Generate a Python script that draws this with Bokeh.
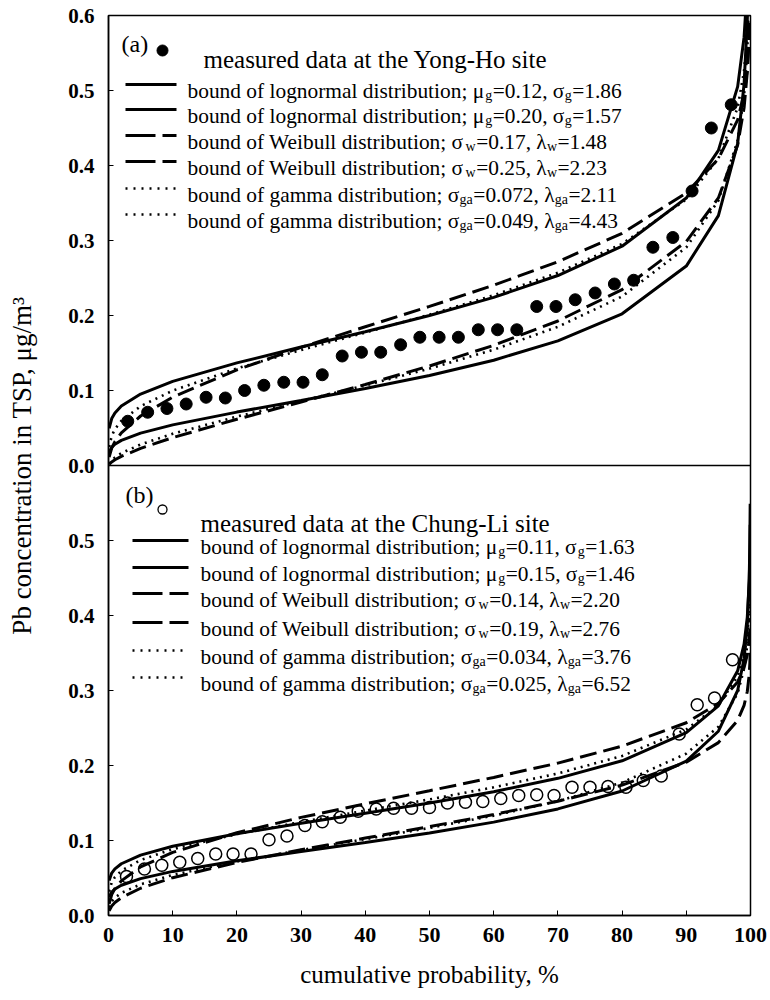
from bokeh.plotting import figure
from bokeh.models import Range1d, FixedTicker, PrintfTickFormatter, Span
from bokeh.core.properties import value
from bokeh.embed import file_html
from bokeh.resources import INLINE

# ---------------- data ----------------
cum_prob = [0.1, 0.5, 1, 2, 5, 10, 20, 30, 40, 50, 60, 70, 80, 90, 95, 98, 99, 99.5, 99.8, 99.9, 99.95, 99.99]
cum_prob_b = [0.1, 0.5, 1, 2, 5, 10, 20, 30, 40, 50, 60, 70, 80, 90, 95, 98, 99, 99.5, 99.8, 99.9, 99.95]

# panel (a) Yong-Ho
a_logn_1 = [0.0176, 0.0242, 0.0283, 0.0335, 0.0432, 0.0542, 0.0712, 0.0867, 0.1026, 0.120, 0.1404, 0.1661, 0.2023, 0.2659, 0.3331, 0.4293, 0.5084, 0.5936, 0.716, 0.817, 0.925, 1.206]
a_logn_2 = [0.0496, 0.0626, 0.0700, 0.0792, 0.0952, 0.1122, 0.1368, 0.1579, 0.1784, 0.200, 0.2242, 0.2533, 0.2924, 0.3566, 0.4201, 0.5051, 0.5711, 0.640, 0.733, 0.806, 0.883, 1.071]
a_weib_1 = [0.0016, 0.0047, 0.0076, 0.0122, 0.0228, 0.0372, 0.0617, 0.0847, 0.1080, 0.1327, 0.1602, 0.1927, 0.2345, 0.2987, 0.3568, 0.4273, 0.4770, 0.5245, 0.5842, 0.6275, 0.669, 0.762]
a_weib_2 = [0.0113, 0.0233, 0.0318, 0.0435, 0.0660, 0.0912, 0.1276, 0.1575, 0.1850, 0.2121, 0.2404, 0.2717, 0.3095, 0.3634, 0.4089, 0.4608, 0.4958, 0.5280, 0.5672, 0.5947, 0.621, 0.677]
a_gamma_1 = [0.0021, 0.0069, 0.0107, 0.0164, 0.0281, 0.0423, 0.0652, 0.0860, 0.1068, 0.1292, 0.1544, 0.1849, 0.2254, 0.2908, 0.3533, 0.4338, 0.4937, 0.5532, 0.6314, 0.6905, 0.750, 0.887]
a_gamma_2 = [0.0248, 0.0395, 0.0484, 0.0595, 0.0791, 0.0998, 0.1294, 0.1540, 0.1773, 0.2011, 0.2270, 0.2570, 0.2955, 0.3548, 0.4094, 0.4772, 0.5263, 0.5742, 0.6358, 0.682, 0.727, 0.830]
a_meas_x = [3.0, 6.1, 9.1, 12.1, 15.2, 18.2, 21.2, 24.2, 27.3, 30.3, 33.3, 36.4, 39.4, 42.4, 45.5, 48.5,
            51.5, 54.5, 57.6, 60.6, 63.6, 66.7, 69.7, 72.7, 75.8, 78.8, 81.8, 84.8, 87.9, 90.9, 93.9, 97.0]
a_meas_y = [0.059, 0.071, 0.076, 0.082, 0.091, 0.090, 0.100, 0.107, 0.111, 0.111, 0.121, 0.146, 0.151, 0.151, 0.161, 0.171,
            0.171, 0.171, 0.181, 0.181, 0.181, 0.212, 0.212, 0.221, 0.230, 0.242, 0.247, 0.291, 0.304, 0.366, 0.450, 0.481]

# panel (b) Chung-Li
b_logn_1 = [0.0243, 0.0313, 0.0353, 0.0403, 0.0492, 0.0588, 0.0729, 0.0852, 0.0972, 0.110, 0.1245, 0.1421, 0.1660, 0.2058, 0.2457, 0.3000, 0.3427, 0.3870, 0.4489, 0.4979, 0.549]
b_logn_2 = [0.0466, 0.0566, 0.0622, 0.0690, 0.0805, 0.0923, 0.1091, 0.1230, 0.1363, 0.150, 0.1651, 0.1829, 0.2063, 0.2437, 0.2796, 0.3263, 0.3617, 0.3976, 0.4457, 0.4830, 0.5211]
b_weib_1 = [0.0061, 0.0126, 0.0173, 0.0238, 0.0363, 0.0504, 0.0708, 0.0876, 0.1032, 0.1185, 0.1346, 0.1523, 0.1738, 0.2045, 0.2305, 0.2602, 0.2802, 0.2987, 0.3212, 0.3370, 0.3520]
b_weib_2 = [0.0156, 0.0279, 0.0359, 0.0462, 0.0648, 0.0841, 0.1103, 0.1308, 0.1489, 0.1664, 0.1841, 0.2032, 0.2258, 0.2570, 0.2828, 0.3114, 0.3304, 0.3477, 0.3683, 0.3827, 0.3962]
b_gamma_1 = [0.0108, 0.0188, 0.0238, 0.0301, 0.0416, 0.0540, 0.0720, 0.0872, 0.1018, 0.1168, 0.1332, 0.1525, 0.1773, 0.2159, 0.2516, 0.2964, 0.3289, 0.3609, 0.4021, 0.4328, 0.4635]
b_gamma_2 = [0.0318, 0.0441, 0.0511, 0.0596, 0.0739, 0.0885, 0.1085, 0.1247, 0.1398, 0.1548, 0.1709, 0.1894, 0.2127, 0.2481, 0.2800, 0.3191, 0.3471, 0.3741, 0.4087, 0.4342, 0.4593]
b_meas_x = [2.8, 5.6, 8.3, 11.1, 13.9, 16.7, 19.4, 22.2, 25.0, 27.8, 30.6, 33.3, 36.1, 38.9, 41.7, 44.4, 47.2, 50.0,
            52.8, 55.6, 58.3, 61.1, 63.9, 66.7, 69.4, 72.2, 75.0, 77.8, 80.6, 83.3, 86.1, 88.9, 91.7, 94.4, 97.2]
b_meas_y = [0.052, 0.062, 0.067, 0.071, 0.076, 0.082, 0.082, 0.082, 0.101, 0.106, 0.120, 0.125, 0.131, 0.139, 0.142, 0.143, 0.143, 0.144,
            0.150, 0.151, 0.152, 0.156, 0.160, 0.161, 0.160, 0.171, 0.171, 0.172, 0.171, 0.180, 0.186, 0.242, 0.281, 0.290, 0.341]

x_ticks = [0, 10, 20, 30, 40, 50, 60, 70, 80, 90, 100]
y_ticks_a = [0.0, 0.1, 0.2, 0.3, 0.4, 0.5, 0.6]
y_ticks_b = [0.0, 0.1, 0.2, 0.3, 0.4, 0.5]
panel_max = 0.6   # each panel spans 0 .. 0.6

a_tag = "(a)"
b_tag = "(b)"
a_measured_label = "measured data at the Yong-Ho site"
b_measured_label = "measured data at the Chung-Li site"
a_legend = [("lognormal", "μ", "g", "0.12", "σ", "g", "1.86"),
            ("lognormal", "μ", "g", "0.20", "σ", "g", "1.57"),
            ("Weibull", "σ", "w", "0.17", "λ", "w", "1.48"),
            ("Weibull", "σ", "w", "0.25", "λ", "w", "2.23"),
            ("gamma", "σ", "ga", "0.072", "λ", "ga", "2.11"),
            ("gamma", "σ", "ga", "0.049", "λ", "ga", "4.43")]
b_legend = [("lognormal", "μ", "g", "0.11", "σ", "g", "1.63"),
            ("lognormal", "μ", "g", "0.15", "σ", "g", "1.46"),
            ("Weibull", "σ", "w", "0.14", "λ", "w", "2.20"),
            ("Weibull", "σ", "w", "0.19", "λ", "w", "2.76"),
            ("gamma", "σ", "ga", "0.034", "λ", "ga", "3.76"),
            ("gamma", "σ", "ga", "0.025", "λ", "ga", "6.52")]
x_title = "cumulative probability, %"
y_title = "Pb concentration in TSP, μg/m³"

# ---------------- styling ----------------
FONT = "Liberation Serif"
STYLE = {"solid": dict(line_dash="solid", line_width=3.0),
         "dash": dict(line_dash="17 7", line_width=3.0),
         "dot": dict(line_dash="2 5", line_width=2.6)}
LEG_DASH = {"solid": "solid", "dash": "30 7", "dot": "2 6"}
KINDS = ["solid", "solid", "dash", "dash", "dot", "dot"]

W = {' ': 250, '(': 333, ')': 333, ',': 250, '-': 333, '.': 250, ';': 278, '=': 564, '%': 833, '/': 278,
     'a': 444, 'b': 500, 'c': 444, 'd': 500, 'e': 444, 'f': 333, 'g': 500, 'h': 500, 'i': 278, 'j': 278,
     'k': 500, 'l': 278, 'm': 778, 'n': 500, 'o': 500, 'p': 500, 'q': 500, 'r': 333, 's': 389, 't': 278,
     'u': 500, 'v': 500, 'w': 722, 'x': 500, 'y': 500, 'z': 444, 'W': 944,
     'μ': 576, 'σ': 549, 'λ': 490}
for _d in "0123456789":
    W[_d] = 500


def tw(s, size):
    return sum(W.get(c, 500) for c in s) * size / 1000.0


FR_L, FR_R, FR_T, FR_B = 108, 750, 15, 915   # page px of the plotting frame
MID = (FR_T + FR_B) / 2.0                     # junction of the two panels
PX_PER_Y = (FR_B - FR_T) / (2 * panel_max)

p = figure(width=770, height=1000,
           x_range=Range1d(0, 100), y_range=Range1d(-panel_max, panel_max),
           output_backend="svg", toolbar_location=None,
           min_border_left=FR_L, min_border_right=770 - FR_R,
           min_border_top=FR_T, min_border_bottom=1000 - FR_B)
p.extra_y_ranges = {"b": Range1d(0, 2 * panel_max)}
p.grid.visible = False
p.outline_line_color = "black"
p.outline_line_width = 1.5
p.background_fill_color = "white"
p.border_fill_color = "white"

# left axis: upper panel values on the default range, lower panel values shown at their own positions
ya = p.yaxis[0]
lower_pos = [round(v - panel_max, 1) for v in y_ticks_b]
ya.ticker = FixedTicker(ticks=lower_pos + y_ticks_a)
ya.formatter = PrintfTickFormatter(format="%.1f")
ya.major_label_overrides = {pos: f"{v:.1f}" for pos, v in zip(lower_pos, y_ticks_b)}
ya.major_tick_in = 5
ya.major_tick_out = 0
ya.minor_tick_in = 0
ya.minor_tick_out = 0
ya.axis_line_color = "black"
ya.axis_line_width = 1.5
ya.major_label_standoff = 14
ya.major_label_text_font = FONT
ya.major_label_text_font_size = "21px"
ya.major_label_text_font_style = "bold"
ya.major_label_text_color = "black"
ya.axis_label = y_title
ya.axis_label_text_font = FONT
ya.axis_label_text_font_size = "27px"
ya.axis_label_text_font_style = "normal"
ya.axis_label_text_color = "black"
ya.axis_label_standoff = 28

xa = p.xaxis[0]
xa.ticker = FixedTicker(ticks=x_ticks)
xa.major_tick_in = 5
xa.major_tick_out = 0
xa.minor_tick_in = 0
xa.minor_tick_out = 0
xa.axis_line_color = "black"
xa.axis_line_width = 1.5
xa.major_label_standoff = 12
xa.major_label_text_font = FONT
xa.major_label_text_font_size = "22px"
xa.major_label_text_font_style = "bold"
xa.major_label_text_color = "black"
xa.axis_label = x_title
xa.axis_label_text_font = FONT
xa.axis_label_text_font_size = "25px"
xa.axis_label_text_font_style = "normal"
xa.axis_label_text_color = "black"
xa.axis_label_standoff = 16

# boundary between the two panels
p.add_layout(Span(location=0, dimension="width", line_color="black", line_width=1.5))


def px_x(px):
    return (px - FR_L) / ((FR_R - FR_L) / 100.0)


def draw_panel(rng, top_px, xs_curve, curves, mx, my, filled, tag, tag_pos, meas_label, meas_pos, marker_pos,
               legend, rows_y, sample_x0, sample_x1, text_x0):
    kw = {} if rng is None else {"y_range_name": rng}
    ty = lambda py: (top_px + panel_max * PX_PER_Y - py) / PX_PER_Y

    def add_text(xs, ys, texts, size):
        p.text(x=[px_x(v) for v in xs], y=[ty(v) for v in ys], text=texts,
               text_font=value(FONT), text_font_size=value(f"{size}px"),
               text_align="left", text_baseline="alphabetic", text_color="black", **kw)

    for vals, kind in zip(curves, KINDS):
        st = STYLE[kind]
        p.line(xs_curve, vals, line_color="black", line_width=st["line_width"], line_dash=st["line_dash"], **kw)
    if filled:
        p.scatter(mx, my, marker="circle", size=12, fill_color="black", line_color="black", **kw)
        p.scatter([px_x(marker_pos[0])], [ty(marker_pos[1])], marker="circle", size=11,
                  fill_color="black", line_color="black", **kw)
    else:
        p.scatter(mx, my, marker="circle", size=12, fill_color=None, line_color="black", line_width=1.5, **kw)
        p.scatter([px_x(marker_pos[0])], [ty(marker_pos[1])], marker="circle", size=9,
                  fill_color=None, line_color="black", line_width=1.3, **kw)
    add_text([tag_pos[0]], [tag_pos[1] + 0.3 * 24], [tag], 24)
    add_text([meas_pos[0]], [meas_pos[1] + 0.3 * 25], [meas_label], 25)

    F, FS = 21.4, 14
    main_x, main_y, main_t, sub_x, sub_y, sub_t = [], [], [], [], [], []
    for (name, s1, sub1, v1, s2, sub2, v2), yc, kind in zip(legend, rows_y, KINDS):
        p.line([px_x(sample_x0), px_x(sample_x1)], [ty(yc), ty(yc)], line_color="black",
               line_width=STYLE[kind]["line_width"], line_dash=LEG_DASH[kind], **kw)
        segs = [(f"bound of {name} distribution; {s1}", False), (sub1, True),
                (f"={v1}, {s2}", False), (sub2, True), (f"={v2}", False)]
        x = text_x0
        base = yc + 0.3 * F
        for s, is_sub in segs:
            if is_sub:
                sub_x.append(x); sub_y.append(base + 5); sub_t.append(s)
                x += tw(s, FS) + 0.5
            else:
                main_x.append(x); main_y.append(base); main_t.append(s)
                x += tw(s, F)
    add_text(main_x, main_y, main_t, F)
    add_text(sub_x, sub_y, sub_t, FS)


# upper panel (a): default range, whose 0 sits at the junction
draw_panel(None, FR_T, cum_prob, [a_logn_1, a_logn_2, a_weib_1, a_weib_2, a_gamma_1, a_gamma_2],
           a_meas_x, a_meas_y, True, a_tag, (121, 36), a_measured_label, (203, 51), (162, 50),
           a_legend, [84, 109, 135, 161, 188, 214], 125, 176, 187)

# lower panel (b): extra range "b", whose 0 sits at the bottom of the frame
draw_panel("b", MID, cum_prob_b, [b_logn_1, b_logn_2, b_weib_1, b_weib_2, b_gamma_1, b_gamma_2],
           b_meas_x, b_meas_y, False, b_tag, (125, 487), b_measured_label, (200, 515), (162, 509),
           b_legend, [540, 567, 593, 622, 650, 677], 132, 188, 200)

open("out.html", "w").write(file_html(p, INLINE))
